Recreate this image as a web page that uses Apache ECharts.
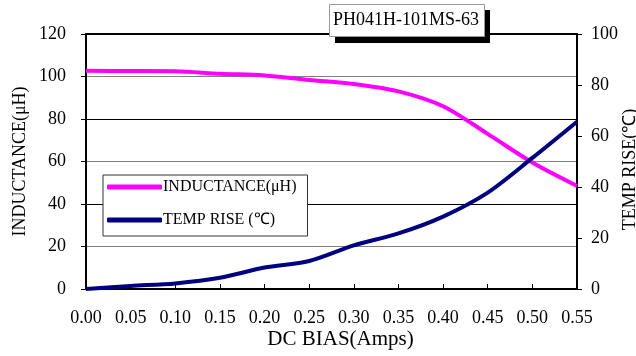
<!DOCTYPE html>
<html><head><meta charset="utf-8">
<script src="https://cdn.jsdelivr.net/npm/echarts@6/dist/echarts.min.js"></script>
<style>html,body{margin:0;padding:0;background:#fff}#c{width:636px;height:356px}</style>
</head><body><div id="c"></div>
<script>
const xValues = [0.00, 0.05, 0.10, 0.15, 0.20, 0.25, 0.30, 0.35, 0.40, 0.45, 0.50, 0.55];
const inductance = [102.7, 102.6, 102.5, 101.3, 100.5, 98.4, 96.5, 93, 86, 73, 59.5, 48.5];
const tempRise = [0, 1.2, 2.2, 4.4, 8.4, 11, 17.1, 21.8, 28.4, 37.8, 51.4, 65.6];
const titleText = 'PH041H-101MS-63';
const seriesNames = ['INDUCTANCE(μH)', 'TEMP RISE (℃)'];
const font = '"Liberation Serif", "Times New Roman", serif';

const chart = echarts.init(document.getElementById('c'), null, {renderer: 'canvas'});
chart.setOption({
  animation: false,
  backgroundColor: '#fff',
  textStyle: {fontFamily: font},
  graphic: [{
    type: 'rect', z: 0,
    shape: {x: 335, y: 10, width: 155, height: 33},
    style: {fill: '#000'}
  }],
  title: {
    text: titleText,
    left: 329, top: 4, z: 10,
    padding: [7, 6, 8, 4],
    backgroundColor: '#fff',
    borderColor: '#999', borderWidth: 1,
    textStyle: {fontFamily: font, fontSize: 18, fontWeight: 'normal', color: '#000'}
  },
  legend: {
    orient: 'vertical',
    left: 103, top: 175,
    padding: [4, 11, 8, 4],
    itemGap: 17,
    itemWidth: 55, itemHeight: 5,
    icon: 'roundRect',
    backgroundColor: '#fff',
    borderColor: '#333', borderWidth: 1,
    textStyle: {fontFamily: font, fontSize: 16, color: '#000', padding: [0, 0, 0, -4]},
    data: seriesNames
  },
  grid: {left: 86, right: 59, top: 34, bottom: 67, outerBoundsMode: 'none', show: true, borderColor: '#000', borderWidth: 2},
  xAxis: {
    type: 'value', min: 0, max: 0.55, interval: 0.05,
    name: 'DC BIAS(Amps)', nameLocation: 'middle', nameGap: 40, nameMoveOverlap: false,
    nameTextStyle: {fontFamily: font, fontSize: 21, color: '#000', padding: [0, 0, 0, 18]},
    axisLine: {lineStyle: {color: '#000', width: 2}},
    axisTick: {inside: true, length: 5, lineStyle: {color: '#000'}},
    axisLabel: {fontFamily: font, fontSize: 18, color: '#000', margin: 20, formatter: v => v.toFixed(2)},
    splitLine: {show: false}
  },
  yAxis: [{
    type: 'value', min: 0, max: 120, interval: 20, position: 'left',
    name: 'INDUCTANCE(μH)', nameLocation: 'middle', nameGap: 57, nameRotate: 90, nameMoveOverlap: false,
    nameTextStyle: {fontFamily: font, fontSize: 18, color: '#000'},
    axisLine: {show: true, lineStyle: {color: '#000', width: 2}},
    axisTick: {show: true, length: 5, lineStyle: {color: '#000'}},
    axisLabel: {fontFamily: font, fontSize: 18, color: '#000', margin: 20},
    splitLine: {show: true, lineStyle: {color: ['#000', '#808080'], width: 1}}
  }, {
    type: 'value', min: 0, max: 100, interval: 20, position: 'right',
    name: 'TEMP RISE(℃)', nameLocation: 'middle', nameGap: 44, nameRotate: 90, nameMoveOverlap: false,
    nameTextStyle: {fontFamily: font, fontSize: 18, color: '#000', padding: [0, 16, 0, 0]},
    axisLine: {show: true, lineStyle: {color: '#000', width: 2}},
    axisTick: {show: true, length: 5, lineStyle: {color: '#000'}},
    axisLabel: {fontFamily: font, fontSize: 18, color: '#000', margin: 14},
    splitLine: {show: false}
  }],
  series: [{
    name: seriesNames[0], type: 'line', yAxisIndex: 0, smooth: 0.3, symbol: 'none',
    data: xValues.map((x, i) => [x, inductance[i]]),
    itemStyle: {color: '#ff00ff'},
    lineStyle: {color: '#ff00ff', width: 4}
  }, {
    name: seriesNames[1], type: 'line', yAxisIndex: 1, smooth: 0.3, symbol: 'none',
    data: xValues.map((x, i) => [x, tempRise[i]]),
    itemStyle: {color: '#000080'},
    lineStyle: {color: '#000080', width: 4}
  }]
});
</script>
</body></html>
